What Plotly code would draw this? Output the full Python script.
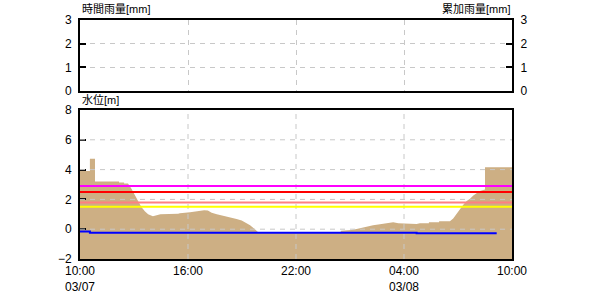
import plotly.graph_objects as go

# ---- data ----
level_time = [
    "2024-03-07 10:00", "2024-03-07 10:33", "2024-03-07 10:33", "2024-03-07 10:50", "2024-03-07 10:50",
    "2024-03-07 12:10", "2024-03-07 12:10", "2024-03-07 12:27", "2024-03-07 12:27", "2024-03-07 12:40",
    "2024-03-07 12:51", "2024-03-07 13:02", "2024-03-07 13:13", "2024-03-07 13:24", "2024-03-07 13:36",
    "2024-03-07 13:47", "2024-03-07 14:03", "2024-03-07 14:17", "2024-03-07 14:28", "2024-03-07 15:27",
    "2024-03-07 15:33", "2024-03-07 16:07", "2024-03-07 16:29", "2024-03-07 16:54", "2024-03-07 17:06",
    "2024-03-07 17:19", "2024-03-07 17:36", "2024-03-07 17:52", "2024-03-07 18:09", "2024-03-07 18:26",
    "2024-03-07 18:42", "2024-03-07 18:59", "2024-03-07 19:16", "2024-03-07 19:27", "2024-03-07 19:43",
    "2024-03-07 19:54", "2024-03-07 20:06", "2024-03-08 00:27", "2024-03-08 00:30", "2024-03-08 01:05",
    "2024-03-08 01:22", "2024-03-08 01:39", "2024-03-08 01:56", "2024-03-08 02:17", "2024-03-08 02:40",
    "2024-03-08 03:02", "2024-03-08 03:24", "2024-03-08 03:41", "2024-03-08 04:42", "2024-03-08 04:53",
    "2024-03-08 05:23", "2024-03-08 05:23", "2024-03-08 05:57", "2024-03-08 05:57", "2024-03-08 06:33",
    "2024-03-08 06:44", "2024-03-08 06:56", "2024-03-08 07:07", "2024-03-08 07:17", "2024-03-08 07:29",
    "2024-03-08 07:40", "2024-03-08 07:51", "2024-03-08 08:02", "2024-03-08 08:13", "2024-03-08 08:30",
    "2024-03-08 08:30", "2024-03-08 10:00",
]
level_value = [
    3.9, 3.9, 4.73, 4.73, 3.2,
    3.2, 3.13, 3.13, 3.07, 3.07,
    2.73, 2.33, 1.89, 1.51, 1.2,
    1.0, 0.87, 0.92, 1.0, 1.03,
    1.07, 1.13, 1.2, 1.27, 1.25,
    1.1, 1.0, 0.93, 0.87, 0.78,
    0.69, 0.58, 0.42, 0.27, 0.0,
    -0.2, -0.25, -0.25, -0.11, -0.06,
    0.02, 0.11, 0.18, 0.27, 0.33,
    0.4, 0.47, 0.4, 0.35, 0.4,
    0.4, 0.47, 0.47, 0.53, 0.53,
    0.71, 1.07, 1.33, 1.62, 1.89,
    2.04, 2.27, 2.44, 2.56, 2.67,
    4.16, 4.16,
]

blue_time = ["2024-03-07 10:00", "2024-03-07 10:33", "2024-03-08 04:42", "2024-03-08 09:09"]
blue_value = [-0.16, -0.23, -0.28, -0.28]

threshold_values = [2.9, 2.5, 1.8, 1.5]
threshold_colors = ["#FF00FF", "#FF0000", "#FF8080", "#FFFF00"]

x_start = "2024-03-07 10:00"
x_end = "2024-03-08 10:00"
x_tickvals = ["2024-03-07 10:00", "2024-03-07 16:00", "2024-03-07 22:00", "2024-03-08 04:00", "2024-03-08 10:00"]
x_ticktext = ["10:00<br>03/07", "16:00", "22:00", "04:00<br>03/08", "10:00"]

level_ticks = [-2, 0, 2, 4, 6, 8]
rain_ticks = [0, 1, 2, 3]

# ---- figure ----
fig = go.Figure()

AREA = "#CDAF84"
GRID = "#C8C8C8"
DASH = "5px,5px"
FONT = "Liberation Sans"
LABEL_FONT = "Liberation Sans, Noto Sans CJK JP"

# baseline for fill
fig.add_trace(go.Scatter(x=[x_start, x_end], y=[level_ticks[0], level_ticks[0]],
                         mode="lines", line=dict(width=0), showlegend=False,
                         hoverinfo="skip", xaxis="x", yaxis="y"))
fig.add_trace(go.Scatter(x=level_time, y=level_value, mode="lines",
                         line=dict(width=0, color=AREA), fill="tonexty",
                         fillcolor=AREA, showlegend=False, xaxis="x", yaxis="y"))
fig.add_trace(go.Scatter(x=blue_time, y=blue_value, mode="lines",
                         line=dict(color="#0000FF", width=2, shape="hv"),
                         showlegend=False, xaxis="x", yaxis="y"))

# top (rain) plot: empty traces to register axes
fig.add_trace(go.Scatter(x=[x_start, x_end], y=[None, None], mode="lines",
                         showlegend=False, xaxis="x2", yaxis="y2"))
fig.add_trace(go.Scatter(x=[x_start, x_end], y=[None, None], mode="lines",
                         showlegend=False, xaxis="x2", yaxis="y3"))

shapes = []
# gridlines above the area for the level plot
for v in level_ticks[1:-1]:
    shapes.append(dict(type="line", xref="x domain", x0=0, x1=1, yref="y", y0=v, y1=v,
                       line=dict(color=GRID, width=1, dash=DASH), layer="above"))
for t in x_tickvals[1:-1]:
    shapes.append(dict(type="line", xref="x", x0=t, x1=t, yref="y domain", y0=0, y1=1,
                       line=dict(color=GRID, width=1, dash=DASH), layer="above"))
# threshold lines
for v, c in zip(threshold_values, threshold_colors):
    shapes.append(dict(type="line", xref="x domain", x0=0, x1=1, yref="y", y0=v, y1=v,
                       line=dict(color=c, width=2), layer="above"))

XD = [80 / 600, 512 / 600]
Y_LEVEL = [1 - 259 / 300, 1 - 110 / 300]
Y_RAIN = [1 - 91 / 300, 1 - 20 / 300]

axis_common = dict(showline=True, linecolor="black", linewidth=2, mirror=True,
                   layer="above traces", zeroline=False, automargin=False)

fig.update_layout(
    width=600, height=300,
    margin=dict(l=0, r=0, t=0, b=0, autoexpand=False),
    paper_bgcolor="white", plot_bgcolor="white",
    font=dict(family=FONT, size=12, color="black"),
    showlegend=False,
    shapes=shapes,
    xaxis=dict(domain=XD, type="date", range=[x_start, x_end],
               tickvals=x_tickvals, ticktext=x_ticktext, ticks="",
               showgrid=False, tickfont=dict(size=12), anchor="y", **axis_common),
    yaxis=dict(domain=Y_LEVEL, range=[level_ticks[0], level_ticks[-1]],
               tickvals=level_ticks, ticks="inside", ticklen=6, tickwidth=2,
               tickcolor="black", showgrid=False, anchor="x",
               ticklabelstandoff=4, **axis_common),
    xaxis2=dict(domain=XD, type="date", range=[x_start, x_end],
                tickvals=x_tickvals, showticklabels=False, ticks="",
                showgrid=True, gridcolor=GRID, griddash=DASH, gridwidth=1,
                anchor="y2", **axis_common),
    yaxis2=dict(domain=Y_RAIN, range=[rain_ticks[0], rain_ticks[-1]],
                tickvals=rain_ticks, ticks="inside", ticklen=6, tickwidth=2,
                tickcolor="black", showgrid=True, gridcolor=GRID, griddash=DASH,
                gridwidth=1, anchor="x2", ticklabelstandoff=4, **axis_common),
    yaxis3=dict(domain=Y_RAIN, range=[rain_ticks[0], rain_ticks[-1]],
                tickvals=rain_ticks, ticks="inside", ticklen=6, tickwidth=2,
                tickcolor="black", showgrid=False, overlaying="y2", side="right",
                anchor="x2", ticklabelstandoff=4, showline=True, linecolor="black",
                linewidth=2, zeroline=False, layer="above traces", automargin=False),
    annotations=[
        dict(text="時間雨量[mm]", xref="paper", yref="paper", x=80 / 600, y=1 - 9 / 300,
             xanchor="left", yanchor="middle", showarrow=False,
             font=dict(family=LABEL_FONT, size=11)),
        dict(text="累加雨量[mm]", xref="paper", yref="paper", x=512 / 600, y=1 - 9 / 300,
             xanchor="right", yanchor="middle", showarrow=False,
             font=dict(family=LABEL_FONT, size=11)),
        dict(text="水位[m]", xref="paper", yref="paper", x=80 / 600, y=1 - 100 / 300,
             xanchor="left", yanchor="middle", showarrow=False,
             font=dict(family=LABEL_FONT, size=11)),
    ],
)

fig.write_html("out.html")
